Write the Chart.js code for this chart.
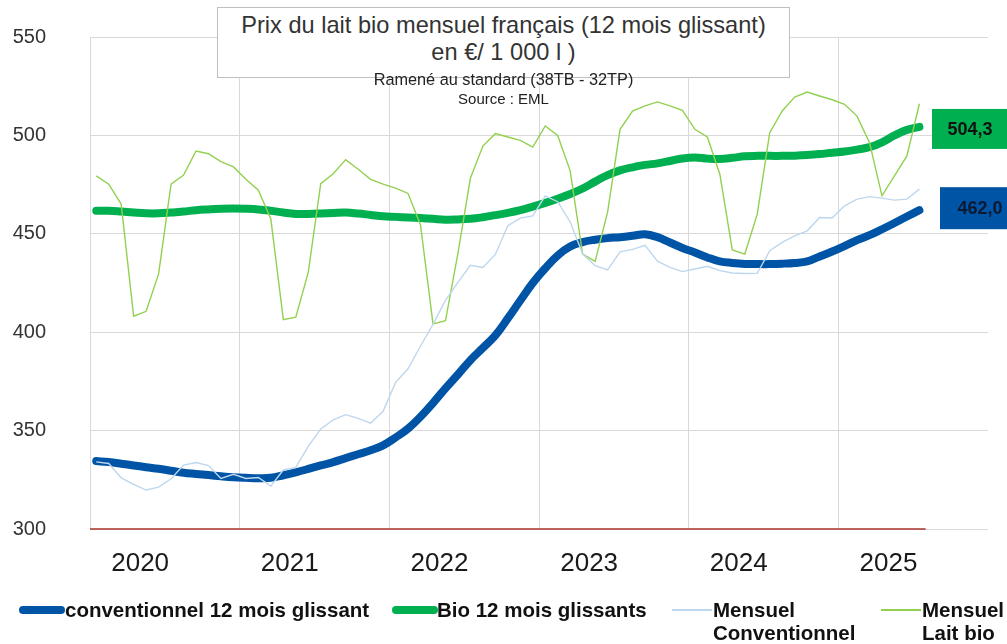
<!DOCTYPE html>
<html>
<head>
<meta charset="utf-8">
<script src="https://cdn.jsdelivr.net/npm/chart.js@4.4.1/dist/chart.umd.min.js"></script>
<style>
    body { margin: 0; background: #fff; font-family: "Liberation Sans", Arial, sans-serif; }
    #wrap { position: relative; width: 1007px; height: 644px; overflow: hidden; }
    #lineChart { display: block; position: absolute; left: 0; top: -19px; }
    #titleBox {
        position: absolute; left: 217px; top: 7px; width: 573px; height: 71px;
        box-sizing: border-box; border: 1px solid #bfbfbf; background: #fff;
        text-align: center; color: #333; font-size: 23.6px; line-height: 27px; padding-top: 4px;
    }
    .sub { position: absolute; left: 217px; width: 573px; text-align: center; color: #222; }
    .leg { position: absolute; font-weight: bold; font-size: 20.5px; color: #111; line-height: 23px; }
    .sw { position: absolute; }
</style>
</head>
<body>
<div id="wrap">
    <canvas id="lineChart" width="1007" height="663"></canvas>
    <div id="titleBox">Prix du lait bio mensuel français (12 mois glissant)<br>en €/ 1 000 l )</div>
    <div class="sub" style="top:70px; font-size:16.3px">Ramené au standard (38TB - 32TP)</div>
    <div class="sub" style="top:90px; font-size:15px">Source : EML</div>

    <div class="sw" style="left:19px; top:606px; width:46px; height:8px; background:#0054a6; border-radius:4px"></div>
    <div class="leg" style="left:65px; top:598px">conventionnel 12 mois glissant</div>
    <div class="sw" style="left:392px; top:606px; width:46px; height:8px; background:#00b050; border-radius:4px"></div>
    <div class="leg" style="left:437px; top:598px">Bio 12 mois glissants</div>
    <div class="sw" style="left:672px; top:609px; width:40px; height:2px; background:#bdd7ee"></div>
    <div class="leg" style="left:713px; top:598px">Mensuel<br>Conventionnel</div>
    <div class="sw" style="left:881px; top:609px; width:40px; height:2px; background:#92d050"></div>
    <div class="leg" style="left:922px; top:598px">Mensuel<br>Lait bio</div>
</div>
<script>
// months on the x axis, Sept 2019 onwards (6 years of slots)
const categories = [];
for (let i = 0; i < 72; i++) {
    const m = (8 + i) % 12 + 1;
    const y = 2019 + Math.floor((8 + i) / 12);
    categories.push(y + "-" + String(m).padStart(2, "0"));
}

const yTicks = [300, 350, 400, 450, 500, 550];

const conv12 = [
    334.5, 334, 333.2, 332.3, 331.4, 330.6, 329.6, 328.6, 328, 327.4, 326.8, 326.3,
    326, 325.8, 326, 327.3, 328.8, 330.5, 332.3, 334, 336, 338, 340, 342.5,
    346.5, 351, 357, 364, 371.5, 378.5, 385.8, 392, 398.4, 407, 416.1, 425,
    432.5, 439, 443.5, 445.8, 447, 447.8, 448.3, 449, 449.8, 448.3, 445.6, 442.8,
    440.5, 438, 436, 435.2, 434.7, 434.6, 434.6, 434.8, 435.2, 436, 438.5, 441,
    443.8, 446.8, 449.3, 452.3, 455.5, 458.8, 462.0
];

const bio12 = [
    461.7, 461.7, 461.3, 460.8, 460.4, 460.4, 460.8, 461.3, 462, 462.4, 462.7, 462.8,
    462.7, 462.4, 461.7, 460.8, 460.1, 460.1, 460.3, 460.6, 460.8, 460.3, 459.6, 458.9,
    458.6, 458.3, 458, 457.6, 457.2, 457.3, 457.6, 458.4, 459.5, 460.6, 462, 463.8,
    465.7, 467.8, 470.2, 473, 476.5, 479.8, 482.2, 483.8, 485, 485.8, 487, 488.3,
    488.8, 488.2, 488, 488.6, 489.4, 489.6, 489.6, 489.6, 489.7, 490, 490.5, 491.2,
    491.8, 492.8, 494, 496.5, 500, 502.8, 504.3
];

const convMonthly = [
    334.1, 333.3, 326, 322.7, 319.8, 321.3, 325.5, 332.5, 333.8, 332.2, 325.7, 327.8,
    325.7, 326.2, 321.8, 330, 331.3, 342, 350.8, 355.4, 358.1, 356.2, 353.8, 359.8,
    374.5, 381.4, 393, 404, 416.2, 425.3, 434, 432.9, 439.5, 454.1, 458, 459.1,
    469.3, 466.3, 456, 439.8, 433.8, 431.6, 440.8, 442.1, 444.2, 436.1, 432.9, 430.8,
    432.1, 433.5, 431.3, 430.1, 429.8, 429.9, 441.4, 445.6, 449, 451.5, 458.3, 458,
    464.2, 467.6, 468.9, 468.1, 467.1, 467.6, 472.7
];

const bioMonthly = [
    479.4, 475.2, 465.1, 408.1, 410.6, 429.6, 475.2, 479.8, 492.1, 490.7, 486.7, 484,
    477.7, 472.2, 457.5, 406.4, 407.6, 430.4, 475.5, 480.5, 487.7, 482.8, 477.7, 475.2,
    473.2, 470.5, 454.5, 404.2, 405.8, 440, 478.2, 494.6, 500.9, 499.2, 497.5, 494.1,
    504.8, 500, 482, 439.7, 436, 461, 503.1, 512.4, 515, 517, 515, 512.7,
    503.1, 499.2, 480.3, 441.8, 439.7, 460, 501.4, 512.4, 519.5, 522, 520, 518.1,
    515.8, 509.8, 496.3, 469.3, 479.4, 489.6, 516.1
];

const gridGrey = "#d9d9d9";

// red base line under the data span + value boxes at the right
const extras = {
    id: "extras",
    beforeDatasetsDraw(chart) {
        const {ctx, chartArea, scales: {x, y}} = chart;
        const step = x.getPixelForValue(1) - x.getPixelForValue(0);
        const y0 = y.getPixelForValue(yTicks[0]);
        ctx.save();
        ctx.strokeStyle = "#a9352c";
        ctx.lineWidth = 1.5;
        ctx.beginPath();
        ctx.moveTo(chartArea.left, y0);
        ctx.lineTo(x.getPixelForValue(conv12.length - 1) + step / 2, y0);
        ctx.stroke();
        ctx.restore();
    },
    afterDatasetsDraw(chart) {
        const {ctx, chartArea, scales: {y}} = chart;
        const boxes = [
            {v: bio12[bio12.length - 1], left: chartArea.right - 56, h: 40, fill: "#00b050", text: "#111", tx: 38, dy: 2},
            {v: conv12[conv12.length - 1], left: chartArea.right - 48, h: 42, fill: "#0054a6", text: "#0b1a33", tx: 40, dy: -2},
        ];
        ctx.save();
        ctx.font = "bold 18px 'Liberation Sans', Arial";
        ctx.textAlign = "center";
        ctx.textBaseline = "middle";
        boxes.forEach((b) => {
            const cy = y.getPixelForValue(b.v) + b.dy;
            ctx.fillStyle = b.fill;
            ctx.fillRect(b.left, cy - b.h / 2, chart.width - b.left, b.h);
            ctx.fillStyle = b.text;
            ctx.fillText(b.v.toFixed(1).replace(".", ","), b.left + b.tx, cy + 1);
        });
        ctx.restore();
    },
};

Chart.defaults.font.family = "'Liberation Sans', Arial, sans-serif";

const ctx = document.getElementById("lineChart");
new Chart(ctx, {
    type: "line",
    data: {
        labels: categories,
        datasets: [
            {
                label: "Mensuel Conventionnel",
                data: convMonthly,
                borderColor: "#bdd7ee",
                borderWidth: 1.4,
                pointRadius: 0,
                tension: 0,
                order: 1,
            },
            {
                label: "Mensuel Lait bio",
                data: bioMonthly,
                borderColor: "#92d050",
                borderWidth: 1.4,
                pointRadius: 0,
                tension: 0,
                order: 1,
            },
            {
                label: "conventionnel 12 mois glissant",
                data: conv12,
                borderColor: "#0054a6",
                borderWidth: 8,
                borderCapStyle: "round",
                borderJoinStyle: "round",
                pointRadius: 0,
                tension: 0.4,
                order: 2,
            },
            {
                label: "Bio 12 mois glissants",
                data: bio12,
                borderColor: "#00b050",
                borderWidth: 8,
                borderCapStyle: "round",
                borderJoinStyle: "round",
                pointRadius: 0,
                tension: 0.4,
                order: 2,
            },
        ],
    },
    options: {
        responsive: false,
        animation: false,
        layout: {padding: {left: 0, right: 19, top: 0, bottom: 0}},
        scales: {
            x: {
                offset: true,
                border: {display: false},
                grid: {
                    offset: true,
                    drawTicks: false,
                    color: (c) => (c.index % 12 === 0 ? gridGrey : "rgba(0,0,0,0)"),
                },
                ticks: {
                    autoSkip: false,
                    maxRotation: 0,
                    padding: 19,
                    labelOffset: -6,
                    color: "#1a1a1a",
                    font: {size: 26},
                    callback: (value, index) => {
                        const c = categories[index];
                        return c.endsWith("-01") ? c.slice(0, 4) : "";
                    },
                },
                afterFit: (s) => { s.height = 115; },
            },
            y: {
                min: yTicks[0],
                max: yTicks[yTicks.length - 1],
                border: {color: gridGrey},
                grid: {color: gridGrey, drawTicks: false},
                ticks: {
                    stepSize: 50,
                    padding: 44,
                    color: "#333",
                    font: {size: 20},
                },
                afterFit: (s) => { s.width = 90; },
            },
        },
        plugins: {
            legend: {display: false},
            tooltip: {enabled: false},
        },
    },
    plugins: [extras],
});
</script>
</body>
</html>
